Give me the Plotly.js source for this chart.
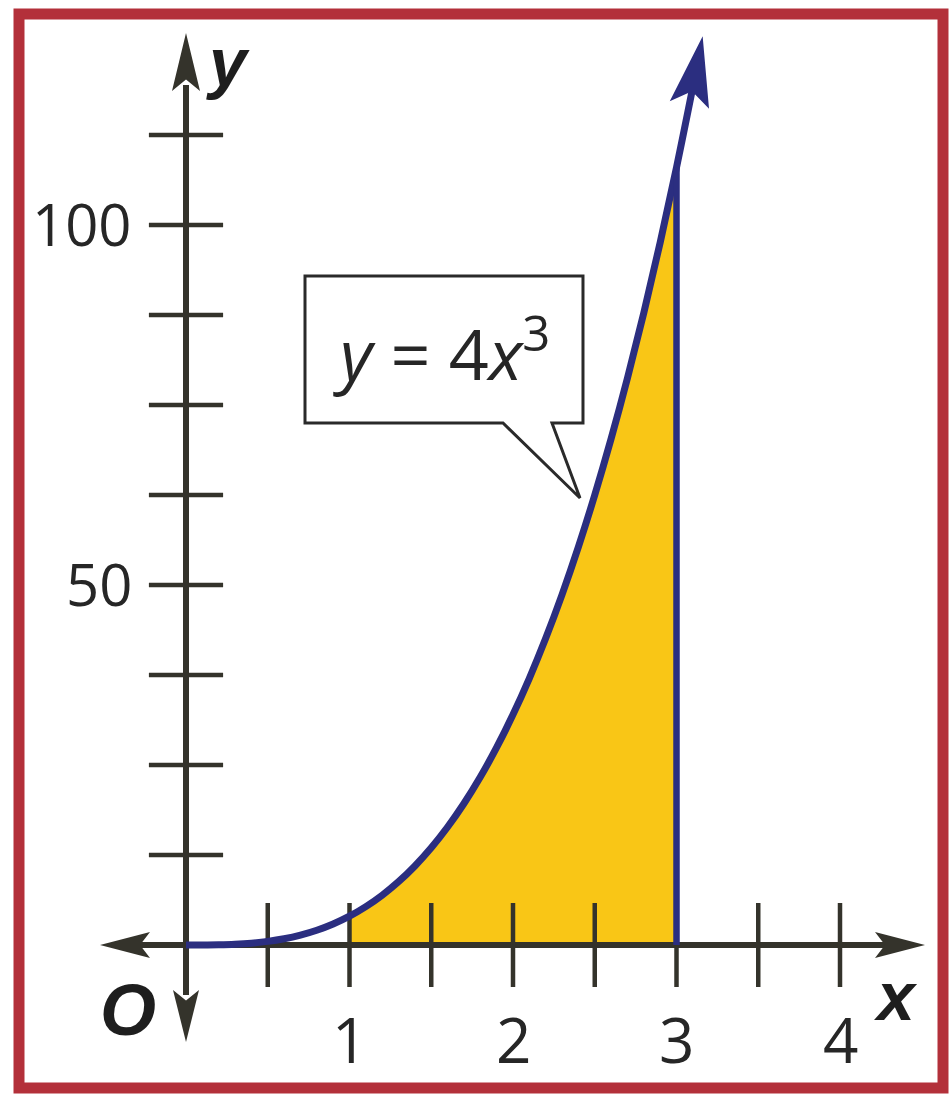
<!DOCTYPE html>
<html>
<head>
<meta charset="utf-8">
<script src="https://cdn.plot.ly/plotly-3.0.1.min.js"></script>
<style>
  html, body { margin: 0; padding: 0; background: #ffffff; }
  #chart { width: 949px; height: 1095px; }
</style>
</head>
<body>
<div id="chart"></div>
<script>
// Curve y = 4x^3, sampled from the origin up to the arrow tip
const curveX = [0, 0.1, 0.2, 0.3, 0.4, 0.5, 0.6, 0.7, 0.8, 0.9, 1.0, 1.1, 1.2, 1.3, 1.4, 1.5,
                1.6, 1.7, 1.8, 1.9, 2.0, 2.1, 2.2, 2.3, 2.4, 2.5, 2.6, 2.7, 2.8, 2.9, 3.0, 3.1, 3.16];
const curveY = [0, 0.004, 0.032, 0.108, 0.256, 0.5, 0.864, 1.372, 2.048, 2.916, 4, 5.324, 6.912,
                8.788, 10.976, 13.5, 16.384, 19.652, 23.328, 27.436, 32, 37.044, 42.592, 48.668,
                55.296, 62.5, 70.304, 78.732, 87.808, 97.556, 108, 119.164, 126.218];

// Shaded region bounds (1 <= x <= 3)
const shadeFrom = 1;
const shadeTo = 3;

// Tick positions and labels
const xTickVals = [0.5, 1, 1.5, 2, 2.5, 3, 3.5, 4];
const xLabelVals = [1, 2, 3, 4];
const xLabels = ['1', '2', '3', '4'];
const yTickVals = [12.5, 25, 37.5, 50, 62.5, 75, 87.5, 100, 112.5];
const yLabelVals = [50, 100];
const yLabels = ['50', '100'];
const equationText = '<i>y</i> = 4<i>x</i><sup>3</sup>';

// ---- page geometry (pixels) ----
const W = 949, H = 1095;
const ox = 186, oy = 945;     // where the origin sits on the page
const sx = 163.5, sy = 7.2;   // pixels per unit on x and y

const toDX = p => (p - ox) / sx;
const toDY = p => (oy - p) / sy;
const toPX = d => ox + d * sx;
const toPY = d => oy - d * sy;

const AXIS = '#34332b';
const NAVY = '#2b2e80';
const GOLD = '#f9c616';
const RED = '#b3303a';
const TXT = '#262626';
const SANS = '"Open Sans", "Noto Sans", sans-serif';
const BOLD = '"Liberation Sans", Arial, sans-serif';

// polygon from pixel points into a data-space SVG path
function pathFromPixels(points) {
  return points.map((p, i) => (i ? 'L' : 'M') + toDX(p[0]).toFixed(4) + ',' + toDY(p[1]).toFixed(4)).join(' ') + ' Z';
}

// arrowhead: tip in pixels, direction unit vector (pixel space), length, half-width
function arrowHead(tx, ty, ux, uy, len, half) {
  const px = -uy, py = ux;
  const bx = tx - ux * len, by = ty - uy * len;
  const nx = tx - ux * len * 0.8, ny = ty - uy * len * 0.8;
  return pathFromPixels([
    [tx, ty],
    [bx + px * half, by + py * half],
    [nx, ny],
    [bx - px * half, by - py * half]
  ]);
}

// shaded slice of the curve
const shadeX = [], shadeY = [];
curveX.forEach((x, i) => {
  if (x >= shadeFrom - 1e-9 && x <= shadeTo + 1e-9) { shadeX.push(x); shadeY.push(curveY[i]); }
});
const shadeTop = shadeY[shadeY.length - 1];

// curve line stops a little short of the tip so the arrowhead stays sharp
const n = curveX.length;
const lineX = curveX.slice(0, n - 1);
const lineY = curveY.slice(0, n - 1);

const traces = [
  { // shaded area
    x: shadeX, y: shadeY, type: 'scatter', mode: 'lines',
    line: { width: 0, shape: 'spline' }, fill: 'tozeroy', fillcolor: GOLD, hoverinfo: 'skip'
  },
  { // x axis
    x: [toDX(140), toDX(885)], y: [0, 0], type: 'scatter', mode: 'lines',
    line: { color: AXIS, width: 6 }, hoverinfo: 'skip'
  },
  { // y axis
    x: [0, 0], y: [toDY(85), toDY(995)], type: 'scatter', mode: 'lines',
    line: { color: AXIS, width: 6 }, hoverinfo: 'skip'
  },
  { // x tick marks
    x: xTickVals, y: xTickVals.map(() => 0), type: 'scatter', mode: 'markers',
    marker: { symbol: 'line-ns', size: 60, color: AXIS, line: { color: AXIS, width: 4.5 } }, hoverinfo: 'skip'
  },
  { // y tick marks
    x: yTickVals.map(() => 0), y: yTickVals, type: 'scatter', mode: 'markers',
    marker: { symbol: 'line-ew', size: 53, color: AXIS, line: { color: AXIS, width: 4.5 } }, hoverinfo: 'skip'
  },
  { // the curve
    x: lineX, y: lineY, type: 'scatter', mode: 'lines',
    line: { color: NAVY, width: 7, shape: 'spline' }, hoverinfo: 'skip'
  },
  { // right edge of the region
    x: [shadeTo, shadeTo], y: [0, shadeTop], type: 'scatter', mode: 'lines',
    line: { color: NAVY, width: 6.5 }, hoverinfo: 'skip'
  }
];

// direction of the curve at its tip (pixel space)
const tipPX = toPX(curveX[n - 1]), tipPY = toPY(curveY[n - 1]);
const prevPX = toPX(curveX[n - 2]), prevPY = toPY(curveY[n - 2]);
let dx = tipPX - prevPX, dy = tipPY - prevPY;
const dl = Math.hypot(dx, dy); dx /= dl; dy /= dl;

const shapes = [
  // axis arrowheads
  { type: 'path', layer: 'above', path: arrowHead(ox, 33, 0, -1, 58, 14), fillcolor: AXIS, line: { width: 0 } },
  { type: 'path', layer: 'above', path: arrowHead(ox, 1042, 0, 1, 52, 13), fillcolor: AXIS, line: { width: 0 } },
  { type: 'path', layer: 'above', path: arrowHead(100, oy, -1, 0, 50, 13), fillcolor: AXIS, line: { width: 0 } },
  { type: 'path', layer: 'above', path: arrowHead(925, oy, 1, 0, 50, 13), fillcolor: AXIS, line: { width: 0 } },
  // curve arrowhead
  { type: 'path', layer: 'above', path: arrowHead(tipPX, tipPY, dx, dy, 70, 20), fillcolor: NAVY, line: { width: 0 } },
  // speech-bubble label box
  { type: 'path', layer: 'above',
    path: pathFromPixels([[305, 423], [305, 276], [583, 276], [583, 423], [552, 423], [580, 498], [503, 423]]),
    fillcolor: '#ffffff', line: { color: '#2a2a2a', width: 3 } },
  // frame
  { type: 'rect', xref: 'paper', yref: 'paper', x0: 19 / W, x1: 943 / W, y0: 1 - 1088 / H, y1: 1 - 14 / H,
    line: { color: RED, width: 11 }, fillcolor: 'rgba(0,0,0,0)', layer: 'above' }
];

const annotations = [];
xLabelVals.forEach((v, i) => annotations.push({
  x: v, y: 0, text: xLabels[i], showarrow: false, xanchor: 'center', yanchor: 'middle',
  yshift: -94, font: { family: SANS, size: 62, color: TXT }
}));
yLabelVals.forEach((v, i) => annotations.push({
  x: 0, y: v, text: yLabels[i], showarrow: false, xanchor: 'right', yanchor: 'middle',
  xshift: -52, yshift: 2, font: { family: SANS, size: 58, color: TXT }
}));
annotations.push(
  { x: toDX(228), y: toDY(62), text: '<b><i>y</i></b>', showarrow: false, xanchor: 'center', yanchor: 'middle',
    font: { family: BOLD, size: 68, color: '#1e1e1e' } },
  { x: toDX(896), y: toDY(996), text: '<b><i>x</i></b>', showarrow: false, xanchor: 'center', yanchor: 'middle',
    font: { family: BOLD, size: 68, color: '#1e1e1e' } },
  { x: toDX(128), y: toDY(1010), text: '<b><i>O</i></b>', showarrow: false, xanchor: 'center', yanchor: 'middle',
    font: { family: BOLD, size: 72, color: '#1e1e1e' } },
  { x: toDX(441), y: toDY(350), text: equationText, showarrow: false, xanchor: 'center', yanchor: 'middle',
    font: { family: SANS, size: 70, color: TXT } }
);

const layout = {
  width: W, height: H,
  margin: { l: 0, r: 0, t: 0, b: 0, pad: 0 },
  paper_bgcolor: '#ffffff', plot_bgcolor: '#ffffff',
  showlegend: false,
  xaxis: { range: [toDX(0), toDX(W)], visible: false, fixedrange: true },
  yaxis: { range: [toDY(H), toDY(0)], visible: false, fixedrange: true },
  shapes: shapes,
  annotations: annotations
};

Plotly.newPlot('chart', traces, layout, { displayModeBar: false, staticPlot: true });
</script>
</body>
</html>
